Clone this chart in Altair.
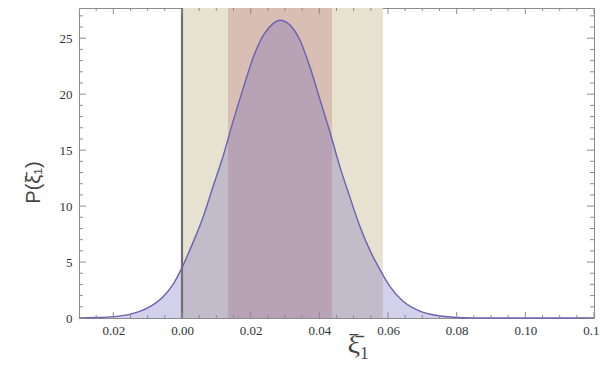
import altair as alt
import pandas as pd

# curve
xi = [-0.030, -0.025, -0.020, -0.015, -0.010, -0.0055, -0.0026, 0.000, 0.003, 0.006,
      0.009, 0.012, 0.015, 0.018, 0.021, 0.024, 0.0265, 0.0285, 0.0306, 0.0325,
      0.0344, 0.0373, 0.0402, 0.0431, 0.046, 0.0489, 0.0518, 0.0548, 0.0577, 0.0606,
      0.0644, 0.0693, 0.0743, 0.079, 0.085, 0.095, 0.120]
density = [0.01, 0.04, 0.12, 0.35, 0.9, 1.9, 3.0, 4.5, 6.6, 8.9,
           11.7, 14.5, 17.7, 20.7, 23.5, 25.4, 26.3, 26.6, 26.4, 25.8,
           24.8, 22.4, 19.5, 16.6, 13.5, 10.8, 8.2, 6.0, 4.3, 2.8,
           1.5, 0.62, 0.22, 0.07, 0.015, 0.0, 0.0]

band_outer = [0.0, 0.0585]
band_inner = [0.0134, 0.0437]
zero_line = [0.0]

x_domain = [-0.03, 0.12]
y_domain = [0.0, 27.7]
x_ticks = [-0.02, 0.0, 0.02, 0.04, 0.06, 0.08, 0.10, 0.12]
x_tick_labels = ["0.02", "0.00", "0.02", "0.04", "0.06", "0.08", "0.10", "0.12"]
x_minor = [-0.025, -0.015, -0.01, -0.005, 0.005, 0.01, 0.015,
           0.025, 0.03, 0.035, 0.045, 0.05, 0.055, 0.065, 0.07, 0.075,
           0.085, 0.09, 0.095, 0.105, 0.11, 0.115]
y_ticks = [0, 5, 10, 15, 20, 25]
y_minor = [1, 2, 3, 4, 6, 7, 8, 9, 11, 12, 13, 14, 16, 17, 18, 19,
           21, 22, 23, 24, 26, 27]

curve = pd.DataFrame({"x": xi, "y": density})
outer = pd.DataFrame({"x": [band_outer[0]], "x2": [band_outer[1]],
                      "y": [y_domain[0]], "y2": [y_domain[1]]})
inner = pd.DataFrame({"x": [band_inner[0]], "x2": [band_inner[1]],
                      "y": [y_domain[0]], "y2": [y_domain[1]]})
zero = pd.DataFrame({"x": zero_line, "y": [y_domain[0]], "y2": [y_domain[1]]})


def xtick_df(values, at):
    return pd.DataFrame({"x": values, "y": [at] * len(values)})


def ytick_df(values, at):
    return pd.DataFrame({"y": values, "x": [at] * len(values)})


xs = alt.Scale(domain=x_domain, nice=False, zero=False)
ys = alt.Scale(domain=y_domain, nice=False, zero=False)

frame = "#8c8c8c"
label_col = "#333333"

expr = "''"
for v, lab in reversed(list(zip(x_ticks, x_tick_labels))):
    expr = f"(abs(datum.value - ({v})) < 1e-9 ? '{lab}' : {expr})"

main_x = alt.Axis(orient="bottom", values=x_ticks, labelExpr=expr, ticks=False,
                  domain=False, grid=False,
                  labelFont="Liberation Serif", labelFontSize=13, labelColor=label_col,
                  labelPadding=6, labelFlush=False,
                  title="ξ\u0304\u2081", titleFont="Liberation Serif", titleFontSize=28,
                  titleFontWeight="normal", titleColor="#444444",
                  titleX=279, titleY=12, titleBaseline="top", titleAnchor="middle")
main_y = alt.Axis(orient="left", values=y_ticks, ticks=False, domain=False,
                  grid=False, labelFont="Liberation Serif",
                  labelFontSize=13, labelColor=label_col, labelPadding=7,
                  title="P(ξ\u0304\u2081)", titleFont="Liberation Sans", titleFontSize=20,
                  titleFontWeight="normal", titleColor="#444444",
                  titleX=-36, titleY=174, titleAngle=-90, titleAnchor="middle")

XA = alt.X("x:Q", scale=xs, axis=main_x)
YA = alt.Y("y:Q", scale=ys, axis=main_y)
X = alt.X("x:Q", scale=xs, axis=None)
Y = alt.Y("y:Q", scale=ys, axis=None)

l_outer = alt.Chart(outer).mark_rect(color="#E7E2D0").encode(
    x=XA, x2="x2:Q", y=YA, y2="y2:Q")

l_inner = alt.Chart(inner).mark_rect(color="#D9BEB3").encode(
    x=X, x2="x2:Q", y=Y, y2="y2:Q")

l_area = alt.Chart(curve).mark_area(color="#6e62bc", opacity=0.3,
                                    interpolate="monotone").encode(x=X, y=Y)

l_zero = alt.Chart(zero).mark_rule(color="#707070", strokeWidth=2.2).encode(
    x=X, y=Y, y2="y2:Q")

l_line = alt.Chart(curve).mark_line(color="#6763b0", strokeWidth=1.4,
                                    interpolate="monotone").encode(x=X, y=Y)


def xtick_layer(values, at, length, direction):
    return alt.Chart(xtick_df(values, at)).mark_tick(
        color=frame, opacity=1, thickness=1, size=length, orient="vertical",
        yOffset=direction * length / 2).encode(x=X, y=Y)


def ytick_layer(values, at, length, direction):
    return alt.Chart(ytick_df(values, at)).mark_tick(
        color=frame, opacity=1, thickness=1, size=length, orient="horizontal",
        xOffset=direction * length / 2).encode(x=X, y=Y)


ticks = [
    xtick_layer(x_ticks, y_domain[0], 6, -1), xtick_layer(x_minor, y_domain[0], 3, -1),
    xtick_layer(x_ticks, y_domain[1], 6, 1), xtick_layer(x_minor, y_domain[1], 3, 1),
    ytick_layer(y_ticks, x_domain[0], 7, 1), ytick_layer(y_minor, x_domain[0], 4, 1),
    ytick_layer(y_ticks, x_domain[1], 7, -1), ytick_layer(y_minor, x_domain[1], 4, -1),
]

chart = alt.layer(l_outer, l_inner, l_area, l_zero, l_line, *ticks).resolve_axis(
    x="independent", y="independent"
).properties(
    width=515, height=310,
    autosize=alt.AutoSizeParams(type="none"),
    padding={"left": 79, "top": 8, "right": 6, "bottom": 56},
    background="white",
).configure_view(stroke=frame, strokeWidth=1)

chart.save("out.html", embed_options={"renderer": "svg", "actions": False})
